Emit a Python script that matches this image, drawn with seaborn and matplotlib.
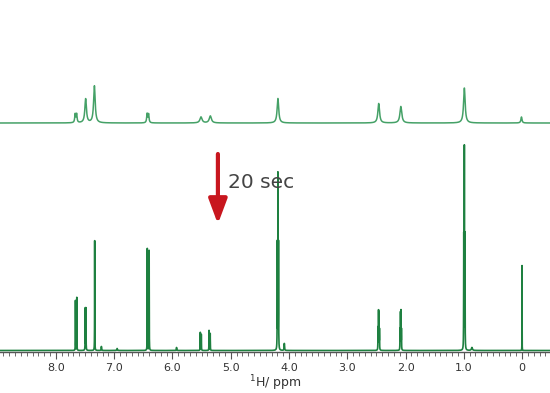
import numpy as np
import pandas as pd
import matplotlib
matplotlib.use("Agg")
import matplotlib.pyplot as plt
import seaborn as sns

# ---- data (peak lists; intensities in plot units) ----
top_ppm = [7.67, 7.645, 7.49, 7.34, 6.435, 6.41, 5.51, 5.35, 4.19, 2.46, 2.08, 0.99, 0.01]
top_int = [8.5, 8.5, 24.0, 37.0, 9.0, 8.5, 6.0, 7.0, 24.5, 19.5, 16.5, 35.0, 6.0]
top_hw = [0.009, 0.009, 0.016, 0.016, 0.009, 0.009, 0.022, 0.022, 0.016, 0.017, 0.019, 0.016, 0.011]

bot_ppm = [7.665, 7.642, 7.497, 7.485, 7.335, 7.22, 6.95, 6.432, 6.400, 5.93,
           5.522, 5.505, 5.372, 5.352, 4.200, 4.190, 4.180, 4.08,
           2.472, 2.463, 2.455, 2.447, 2.094, 2.086, 2.078, 2.070,
           1.000, 0.990, 0.980, 0.86, 0.0]
bot_int = [50.0, 53.0, 42.0, 42.0, 110.0, 4.0, 2.0, 102.0, 100.0, 3.0,
           18.0, 16.0, 20.0, 17.0, 108.0, 170.0, 108.0, 7.0,
           22.0, 38.0, 36.0, 20.0, 20.0, 36.0, 38.0, 20.0,
           116.0, 196.0, 116.0, 3.0, 85.0]
bot_hw = [0.0015, 0.0015, 0.0018, 0.0018, 0.0015, 0.004, 0.006, 0.0015, 0.0015, 0.004,
          0.0018, 0.0018, 0.0018, 0.0018, 0.0022, 0.0008, 0.0022, 0.004,
          0.0018, 0.0018, 0.0018, 0.0018, 0.0018, 0.0018, 0.0018, 0.0018,
          0.0022, 0.0008, 0.0022, 0.01, 0.0008]

top_offset = 229.0
bot_offset = 1.5

tick_values = [8.0, 7.0, 6.0, 5.0, 4.0, 3.0, 2.0, 1.0, 0.0]
tick_labels = ["8.0", "7.0", "6.0", "5.0", "4.0", "3.0", "2.0", "1.0", "0"]

# ---- build spectra from peak lists ----
x = np.linspace(9.0, -0.5, 60000)

def spectrum(ppm, inten, hw):
    y = np.zeros_like(x)
    for p, h, w in zip(ppm, inten, hw):
        y += h / (1.0 + ((x - p) / w) ** 2)
    return y

df_top = pd.DataFrame({"ppm": x, "I": spectrum(top_ppm, top_int, top_hw) + top_offset})
df_bot = pd.DataFrame({"ppm": x, "I": spectrum(bot_ppm, bot_int, bot_hw) + bot_offset})

sns.set_style("ticks")
plt.rcParams["font.family"] = ["DejaVu Sans"]

fig = plt.figure(figsize=(5.5, 3.93), dpi=100)
ax = fig.add_axes([0.0, 41 / 393, 1.0, 352 / 393])

sns.lineplot(data=df_top, x="ppm", y="I", ax=ax, color="#45a167", lw=1.1,
             estimator=None, sort=False)
sns.lineplot(data=df_bot, x="ppm", y="I", ax=ax, color="#1e8040", lw=1.2,
             estimator=None, sort=False)

ax.set_xlim(8.96, -0.48)
ax.set_ylim(0, 352)

for s in ["left", "top", "right"]:
    ax.spines[s].set_visible(False)
ax.spines["bottom"].set_color("#555555")
ax.spines["bottom"].set_linewidth(1.0)
ax.set_yticks([])
ax.set_ylabel("")

ax.set_xticks(tick_values)
ax.set_xticklabels(tick_labels)
ax.set_xticks(np.arange(-0.4, 9.0, 0.1).round(1), minor=True)
ax.tick_params(axis="x", which="major", length=5, width=0.8, color="#555555",
               labelsize=8, labelcolor="#333333", pad=3)
ax.tick_params(axis="x", which="minor", length=3, width=0.6, color="#555555")
ax.set_xlabel("$^1$H/ ppm", fontsize=9, color="#333333", labelpad=0)

# arrow + label
ax.annotate("", xy=(5.22, 128), xytext=(5.22, 198),
            arrowprops=dict(arrowstyle="-|>,head_width=0.28,head_length=0.75",
                            lw=3, color="#c8161e", shrinkA=0, shrinkB=0,
                            mutation_scale=20))
ax.text(5.05, 169, "20 sec", fontsize=14.5, color="#444444", ha="left", va="center")

fig.savefig("out.png", dpi=100)
